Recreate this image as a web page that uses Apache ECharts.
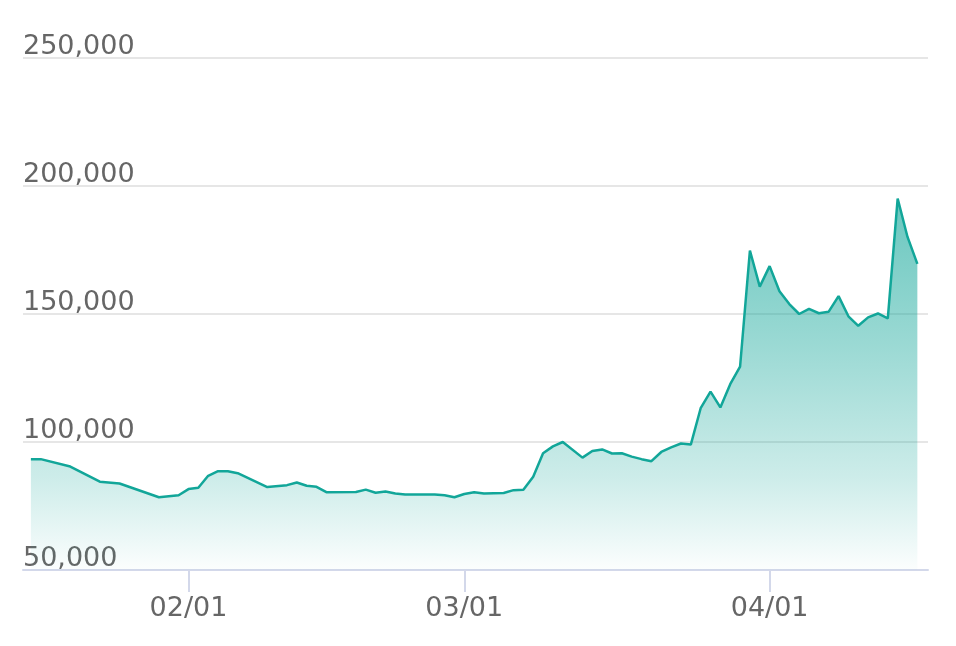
<!DOCTYPE html>
<html>
<head>
<meta charset="utf-8">
<script src="https://cdn.jsdelivr.net/npm/echarts@6/dist/echarts.min.js"></script>
<style>
  html, body { margin: 0; padding: 0; background: #ffffff; }
  #chart { width: 956px; height: 646px; }
</style>
</head>
<body>
<div id="chart"></div>
<script>
// Dates (2021, non-leap year) and values
const dates = [
  '2021-01-16','2021-01-17','2021-01-20','2021-01-23','2021-01-25','2021-01-29','2021-01-31',
  '2021-02-01','2021-02-02','2021-02-03','2021-02-04','2021-02-05','2021-02-06','2021-02-09',
  '2021-02-11','2021-02-12','2021-02-13','2021-02-14','2021-02-15','2021-02-18','2021-02-19',
  '2021-02-20','2021-02-21','2021-02-22','2021-02-23','2021-02-26','2021-02-27','2021-02-28',
  '2021-03-01','2021-03-02','2021-03-03','2021-03-05','2021-03-06','2021-03-07','2021-03-08',
  '2021-03-09','2021-03-10','2021-03-11','2021-03-13','2021-03-14','2021-03-15','2021-03-16',
  '2021-03-17','2021-03-18','2021-03-19','2021-03-20','2021-03-21','2021-03-22','2021-03-23',
  '2021-03-24','2021-03-25','2021-03-26','2021-03-27','2021-03-28','2021-03-29','2021-03-30',
  '2021-03-31','2021-04-01','2021-04-02','2021-04-03','2021-04-04','2021-04-05','2021-04-06',
  '2021-04-07','2021-04-08','2021-04-09','2021-04-10','2021-04-11','2021-04-12','2021-04-13',
  '2021-04-14','2021-04-15','2021-04-16'
];
const values = [
  93300, 93300, 90400, 84500, 83800, 78400, 79200,
  81600, 82100, 86800, 88600, 88600, 87800, 82400,
  83150, 84200, 82900, 82500, 80400, 80500, 81400,
  80200, 80700, 79900, 79500, 79500, 79200, 78400,
  79700, 80400, 79900, 80100, 81200, 81300, 86400,
  95600, 98300, 100000, 93900, 96500, 97100, 95500,
  95600, 94300, 93300, 92500, 96100, 97900, 99400,
  99000, 113200, 119700, 113500, 122600, 129400, 174800,
  160700, 168700, 158900, 153900, 150000, 152000, 150300,
  150900, 157000, 149100, 145400, 148700, 150200, 148300,
  195100, 180100, 169600
];
const yTicks = [50000, 100000, 150000, 200000, 250000];

const DAY = 86400000;
function toTime(s) {
  const p = s.split('-').map(Number);
  return new Date(p[0], p[1] - 1, p[2]).getTime();
}
const seriesData = dates.map((d, i) => [toTime(d), values[i]]);

const lineColor = '#12a699';
const chart = echarts.init(document.getElementById('chart'), null, { renderer: 'canvas' });
chart.setOption({
  animation: false,
  backgroundColor: '#ffffff',
  textStyle: { fontFamily: 'DejaVu Sans' },
  grid: { left: 23, right: 28, top: 58, bottom: 76, containLabel: false },
  xAxis: {
    type: 'time',
    min: toTime(dates[0]) - 0.8 * DAY,
    max: toTime(dates[0]) + 91.08 * DAY,
    splitNumber: 3,
    minInterval: 28 * DAY,
    axisLine: { show: true, lineStyle: { color: '#d3d8ea', width: 2 } },
    axisTick: { show: true, length: 22, lineStyle: { color: '#d3d8ea', width: 2 } },
    axisLabel: {
      color: '#666666',
      fontSize: 27,
      fontFamily: 'DejaVu Sans',
      margin: 25,
      formatter: '{MM}/{dd}',
      showMinLabel: false,
      showMaxLabel: false
    },
    splitLine: { show: false }
  },
  yAxis: {
    type: 'value',
    min: yTicks[0],
    max: yTicks[yTicks.length - 1],
    interval: yTicks[1] - yTicks[0],
    axisLine: { show: false },
    axisTick: { show: false },
    axisLabel: {
      inside: true,
      margin: 0,
      verticalAlign: 'bottom',
      lineHeight: 22,
      color: '#666666',
      fontSize: 27,
      fontFamily: 'DejaVu Sans',
      formatter: v => v.toLocaleString('en-US')
    },
    splitLine: { show: true, lineStyle: { color: '#e6e6e6', width: 2 } }
  },
  series: [{
    type: 'line',
    data: seriesData,
    showSymbol: false,
    symbol: 'none',
    lineStyle: { color: lineColor, width: 2.5 },
    itemStyle: { color: lineColor },
    areaStyle: {
      color: new echarts.graphic.LinearGradient(0, 0, 0, 1, [
        { offset: 0, color: 'rgba(18,166,153,0.9)' },
        { offset: 0.4, color: 'rgba(18,166,153,0.6)' },
        { offset: 0.75, color: 'rgba(18,166,153,0.3)' },
        { offset: 1, color: 'rgba(18,166,153,0.02)' }
      ])
    }
  }]
});
</script>
</body>
</html>
